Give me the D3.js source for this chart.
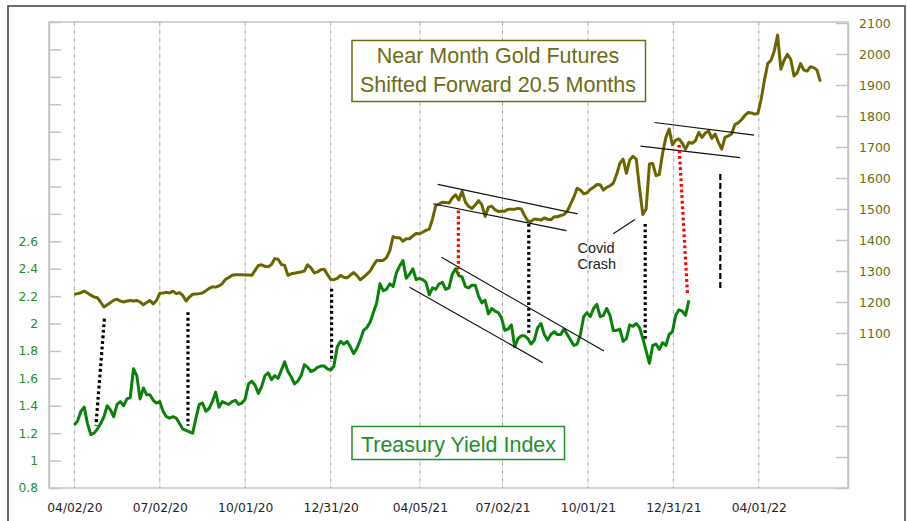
<!DOCTYPE html>
<html>
<head>
<meta charset="utf-8">
<script src="https://cdn.jsdelivr.net/npm/d3@7"></script>
<style>
  body { margin: 0; background: #fff; }
  svg { display: block; }
</style>
</head>
<body>
<svg id="chart" width="907" height="521"></svg>
<script>
// sampled every 3.5 days starting 04/02/20
var startDate = new Date(2020, 3, 2);
var stepHours = 84;

var goldValues = [
  1225, 1227, 1230, 1235, 1229, 1222, 1216, 1214, 1200, 1184,
  1191, 1198, 1206, 1209, 1203, 1200, 1203, 1205, 1203, 1205,
  1200, 1191, 1198, 1205, 1194, 1205, 1228, 1229, 1231, 1229,
  1235, 1227, 1230, 1221, 1203, 1216, 1225, 1226, 1227, 1229,
  1236, 1244, 1249, 1248, 1252, 1259, 1273, 1279, 1286, 1288,
  1288, 1288, 1287, 1287, 1286, 1302, 1318, 1320, 1315, 1314,
  1321, 1340, 1338, 1321, 1318, 1286, 1291, 1293, 1295, 1297,
  1300, 1320, 1310, 1294, 1297, 1304, 1306, 1289, 1273, 1272,
  1276, 1286, 1280, 1278, 1287, 1295, 1285, 1272, 1280, 1289,
  1300, 1318, 1334, 1334, 1334, 1343, 1366, 1411, 1407, 1407,
  1396, 1404, 1404, 1413, 1421, 1420, 1425, 1431, 1435, 1468,
  1512, 1516, 1522, 1521, 1519, 1535, 1546, 1529, 1557, 1522,
  1508, 1502, 1513, 1527, 1514, 1476, 1506, 1509, 1498, 1492,
  1493, 1493, 1499, 1499, 1499, 1502, 1500, 1479, 1461, 1460,
  1468, 1467, 1464, 1471, 1467, 1465, 1475, 1475, 1479, 1482,
  1493, 1516, 1538, 1567, 1561, 1549, 1552, 1563, 1570, 1579,
  1578, 1561, 1570, 1575, 1583, 1611, 1647, 1661, 1615, 1658,
  1670, 1661, 1565, 1482, 1500, 1645, 1647, 1608, 1611, 1679,
  1731, 1758, 1707, 1722, 1726, 1712, 1693, 1715, 1712, 1720,
  1747, 1731, 1745, 1752, 1728, 1742, 1715, 1693, 1731, 1736,
  1742, 1772, 1778, 1788, 1801, 1811, 1810, 1806, 1808, 1854,
  1915, 1969, 1980, 2010, 2061, 1951, 1980, 1999, 1983, 1929,
  1940, 1969, 1948, 1945, 1959, 1956, 1948, 1911
];

var yieldValues = [
  1.26, 1.29, 1.36, 1.39, 1.27, 1.19, 1.20, 1.23, 1.27, 1.32,
  1.40, 1.37, 1.32, 1.41, 1.43, 1.40, 1.45, 1.46, 1.67, 1.62,
  1.45, 1.53, 1.48, 1.48, 1.44, 1.42, 1.43, 1.36, 1.32, 1.31,
  1.32, 1.31, 1.27, 1.23, 1.22, 1.21, 1.20, 1.31, 1.41, 1.42,
  1.36, 1.38, 1.43, 1.50, 1.39, 1.43, 1.42, 1.41, 1.43, 1.44,
  1.41, 1.42, 1.45, 1.56, 1.58, 1.55, 1.49, 1.54, 1.62, 1.64,
  1.59, 1.62, 1.60, 1.66, 1.72, 1.65, 1.61, 1.56, 1.58, 1.62,
  1.70, 1.68, 1.65, 1.66, 1.68, 1.69, 1.69, 1.67, 1.66, 1.69,
  1.83, 1.87, 1.85, 1.87, 1.83, 1.78, 1.82, 1.88, 1.95, 1.97,
  2.01, 2.08, 2.15, 2.29, 2.24, 2.25, 2.29, 2.27, 2.37, 2.42,
  2.46, 2.33, 2.36, 2.40, 2.32, 2.33, 2.32, 2.30, 2.21, 2.26,
  2.25, 2.29, 2.30, 2.25, 2.26, 2.36, 2.40, 2.35, 2.34, 2.27,
  2.26, 2.28, 2.28, 2.20, 2.15, 2.17, 2.07, 2.11, 2.09, 2.08,
  2.04, 1.95, 1.96, 1.99, 1.83, 1.89, 1.91, 1.91, 1.89, 1.85,
  1.88, 1.97, 2.00, 1.92, 1.88, 1.92, 1.94, 1.92, 1.92, 1.96,
  1.92, 1.88, 1.84, 1.85, 1.92, 2.05, 2.08, 2.05, 2.11, 2.14,
  2.05, 2.06, 2.11, 2.06, 1.95, 1.95, 1.96, 1.87, 1.89, 1.99,
  1.98, 2.00, 1.97, 1.89, 1.80, 1.71, 1.84, 1.85, 1.81, 1.86,
  1.84, 1.92, 1.94, 2.06, 2.10, 2.09, 2.06, 2.17
];

var dateTicks = ["2020-04-02", "2020-07-02", "2020-10-01", "2020-12-31", "2021-04-05",
                 "2021-07-02", "2021-10-01", "2021-12-31", "2022-04-01"];
var yieldTicks = [0.8, 1, 1.2, 1.4, 1.6, 1.8, 2, 2.2, 2.4, 2.6, 2.8, 3, 3.2, 3.4, 3.6, 3.8, 4, 4.2];
var yieldLabelMax = 2.6;
var goldTicks = [600, 700, 800, 900, 1000, 1100, 1200, 1300, 1400, 1500, 1600, 1700, 1800, 1900, 2000, 2100];
var goldLabelMin = 1100;

// annotations: gold price at top end, yield at bottom end
var blackDotted = [
  [["2020-05-04", 1146], ["2020-04-25", 1.255]],
  [["2020-08-01", 1167], ["2020-08-01", 1.255]],
  [["2021-01-01", 1243], ["2021-01-01", 1.721]],
  [["2021-07-30", 1452], ["2021-07-30", 1.933]],
  [["2021-12-01", 1452], ["2021-12-01", 1.880]]
];
var redDotted = [
  [["2021-05-16", 1495], ["2021-05-16", 2.366]],
  [["2022-01-06", 1707], ["2022-01-15", 2.220]]
];
var blackDashed = [
  [["2022-02-19", 1613], ["2022-02-19", 2.250]]
];
var goldChannels = [
  [["2021-04-24", 1579.5], ["2021-09-20", 1484]],
  [["2021-04-19", 1517], ["2021-09-08", 1430.5]],
  [["2021-12-11", 1779], ["2022-03-27", 1738.5]],
  [["2021-11-26", 1703], ["2022-03-12", 1665.5]],
  [["2021-10-28", 1420], ["2021-11-20", 1466]]   // Covid pointer
];
var yieldChannels = [
  [["2021-04-28", 2.483], ["2021-10-18", 1.80]],
  [["2021-03-25", 2.264], ["2021-08-14", 1.714]]
];

var goldColor = "#6b6500";
var goldText = "#6f6b14";
var greenColor = "#0a820a";
var greenText = "#22902a";
var axisGray = "#c4c4c4";

var plotLeft = 49, plotRight = 848, plotTop = 22, plotBottom = 488;
var parseDate = d3.timeParse("%Y-%m-%d");
var dateAt = function(i) { return d3.timeHour.offset(startDate, i * stepHours); };

var x = d3.scaleTime()
  .domain([new Date(2020, 2, 6), new Date(2022, 6, 5)])
  .range([plotLeft, plotRight]);
var yYield = d3.scaleLinear().domain([0.8, 4.2]).range([plotBottom, plotTop]);
var yGold = d3.scaleLinear().domain([600, 2100]).range([plotBottom, plotTop + 1]);

var svg = d3.select("#chart");

// outer frame
svg.append("rect")
  .attr("x", 8).attr("y", 6).attr("width", 897).attr("height", 540)
  .attr("fill", "none").attr("stroke", "#4a4a4a").attr("stroke-width", 1.6);

// plot border
svg.append("rect")
  .attr("x", plotLeft).attr("y", plotTop)
  .attr("width", plotRight - plotLeft).attr("height", plotBottom - plotTop)
  .attr("fill", "none").attr("stroke", axisGray).attr("stroke-width", 1.5);

// vertical grid
svg.append("g").selectAll("line").data(dateTicks).enter()
  .append("line")
  .attr("x1", function(d) { return x(parseDate(d)); })
  .attr("x2", function(d) { return x(parseDate(d)); })
  .attr("y1", plotTop).attr("y2", plotBottom)
  .attr("stroke", "#ababab").attr("stroke-width", 1)
  .attr("stroke-dasharray", "4,1.5,1,1.5");

// axes
var xAxis = d3.axisBottom(x)
  .tickValues(dateTicks.map(parseDate))
  .tickFormat(d3.timeFormat("%m/%d/%y"))
  .tickSize(0).tickPadding(15);
var gx = svg.append("g").attr("transform", "translate(0," + plotBottom + ")").call(xAxis);
gx.select(".domain").remove();
gx.selectAll("text").attr("fill", "#222")
  .style("font-family", "DejaVu Sans").style("font-size", "12.3px");

var yAxisLeft = d3.axisLeft(yYield)
  .tickValues(yieldTicks)
  .tickFormat(function(d) { return d <= yieldLabelMax ? d3.format("~g")(d) : ""; })
  .tickSizeInner(-12).tickSizeOuter(0).tickPadding(11);
var gl = svg.append("g").attr("transform", "translate(" + plotLeft + ",0)").call(yAxisLeft);
gl.select(".domain").attr("stroke", axisGray).attr("stroke-width", 1.5);
gl.selectAll(".tick line").attr("stroke", axisGray).attr("stroke-width", 1.5);
gl.selectAll("text").attr("fill", greenText)
  .style("font-family", "DejaVu Sans").style("font-size", "12.3px");

var yAxisRight = d3.axisRight(yGold)
  .tickValues(goldTicks)
  .tickFormat(function(d) { return d >= goldLabelMin ? d : ""; })
  .tickSizeInner(-12).tickSizeOuter(0).tickPadding(11);
var gr = svg.append("g").attr("transform", "translate(" + plotRight + ",0)").call(yAxisRight);
gr.select(".domain").attr("stroke", axisGray).attr("stroke-width", 1.5);
gr.selectAll(".tick line").attr("stroke", axisGray).attr("stroke-width", 1.5);
gr.selectAll("text").attr("fill", goldText)
  .style("font-family", "DejaVu Sans").style("font-size", "12.5px");

// series
var goldLine = d3.line()
  .x(function(d, i) { return x(dateAt(i)); })
  .y(function(d) { return yGold(d); });
var yieldLine = d3.line()
  .x(function(d, i) { return x(dateAt(i)); })
  .y(function(d) { return yYield(d); });

svg.append("path").datum(goldValues)
  .attr("d", goldLine)
  .attr("fill", "none").attr("stroke", goldColor).attr("stroke-width", 3)
  .attr("stroke-linejoin", "round");
svg.append("path").datum(yieldValues)
  .attr("d", yieldLine)
  .attr("fill", "none").attr("stroke", greenColor).attr("stroke-width", 3)
  .attr("stroke-linejoin", "round");

// channels
function drawSegments(data, yScale, color, width, dash) {
  svg.append("g").selectAll("line").data(data).enter()
    .append("line")
    .attr("x1", function(d) { return x(parseDate(d[0][0])); })
    .attr("y1", function(d) { return yScale(d[0][1]); })
    .attr("x2", function(d) { return x(parseDate(d[1][0])); })
    .attr("y2", function(d) { return yScale(d[1][1]); })
    .attr("stroke", color).attr("stroke-width", width)
    .attr("stroke-dasharray", dash);
}
drawSegments(goldChannels, yGold, "#111", 1.2, null);
drawSegments(yieldChannels, yYield, "#111", 1.2, null);

// connectors: from gold line down to yield line
function drawConnectors(data, color, width, dash) {
  svg.append("g").selectAll("line").data(data).enter()
    .append("line")
    .attr("x1", function(d) { return x(parseDate(d[0][0])); })
    .attr("y1", function(d) { return yGold(d[0][1]); })
    .attr("x2", function(d) { return x(parseDate(d[1][0])); })
    .attr("y2", function(d) { return yYield(d[1][1]); })
    .attr("stroke", color).attr("stroke-width", width)
    .attr("stroke-dasharray", dash);
}
drawConnectors(blackDotted, "#000", 3.2, "2.8,2.8");
drawConnectors(redDotted, "#f00", 3.2, "2.8,2.8");
drawConnectors(blackDashed, "#000", 2.2, "6,3");

// title boxes
svg.append("rect")
  .attr("x", 352).attr("y", 40.5).attr("width", 293.5).attr("height", 61)
  .attr("fill", "#fff").attr("stroke", goldText).attr("stroke-width", 1.5);
svg.append("text")
  .attr("x", 498).attr("y", 63.3).attr("text-anchor", "middle")
  .attr("fill", goldText).style("font-family", "Liberation Sans, Arial, sans-serif")
  .style("font-size", "21.5px").text("Near Month Gold Futures");
svg.append("text")
  .attr("x", 498).attr("y", 92.3).attr("text-anchor", "middle")
  .attr("fill", goldText).style("font-family", "Liberation Sans, Arial, sans-serif")
  .style("font-size", "21.5px").text("Shifted Forward 20.5 Months");

svg.append("rect")
  .attr("x", 352).attr("y", 426.5).attr("width", 212.5).attr("height", 33)
  .attr("fill", "#fff").attr("stroke", greenText).attr("stroke-width", 1.5);
svg.append("text")
  .attr("x", 458.5).attr("y", 451.6).attr("text-anchor", "middle")
  .attr("fill", greenText).style("font-family", "Liberation Sans, Arial, sans-serif")
  .style("font-size", "21.5px").text("Treasury Yield Index");

// covid note
svg.append("text")
  .attr("x", 577.5).attr("y", 252.7)
  .attr("fill", "#222").style("font-family", "Liberation Sans, Arial, sans-serif")
  .style("font-size", "14.5px").text("Covid");
svg.append("text")
  .attr("x", 577.5).attr("y", 269.3)
  .attr("fill", "#222").style("font-family", "Liberation Sans, Arial, sans-serif")
  .style("font-size", "14.5px").text("Crash");
</script>
</body>
</html>
